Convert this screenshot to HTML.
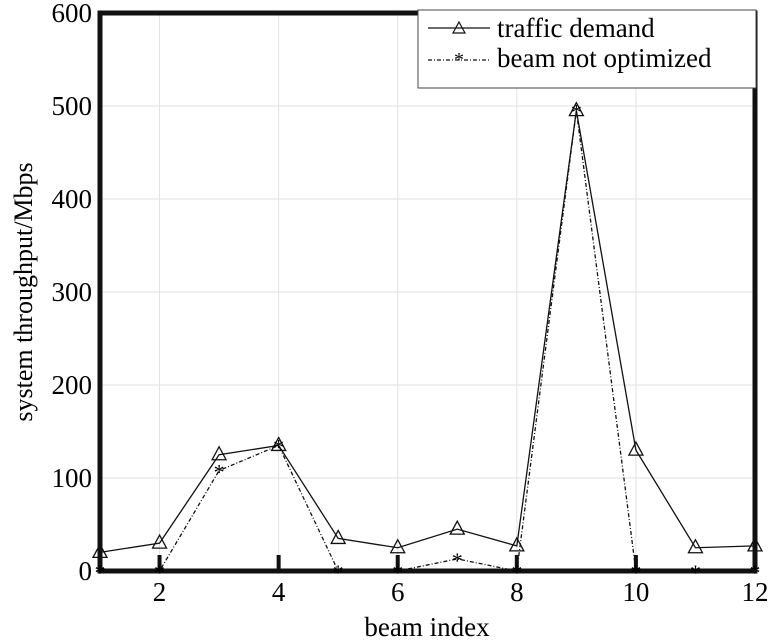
<!DOCTYPE html>
<html><head><meta charset="utf-8"><style>
html,body{margin:0;padding:0;background:#fff;}
svg{display:block;font-family:"Liberation Serif",serif;}
</style></head><body>
<svg id="chart" width="773" height="644" viewBox="0 0 773 644" xmlns="http://www.w3.org/2000/svg">
<g id="grid"></g>
<g id="axes"></g>
<g id="series"></g>
<text x="427" y="636" font-size="27" text-anchor="middle">beam index</text>
<text transform="translate(32,292) rotate(-90)" font-size="26" text-anchor="middle">system throughput/Mbps</text>
<g>
<rect x="418" y="10" width="338" height="78" fill="#fff" stroke="#444" stroke-width="1"/>
<line x1="428" y1="28" x2="490" y2="28" stroke="#111" stroke-width="1.3"/>
<path d="M459,22 L465,33 L453,33 Z" fill="none" stroke="#111" stroke-width="1.2"/>
<text x="497" y="37" font-size="27">traffic demand</text>
<line x1="428" y1="60" x2="490" y2="60" stroke="#111" stroke-width="1.3" stroke-dasharray="4,2,1,2"/>
<text x="459" y="66" font-size="20" text-anchor="middle">*</text>
<text x="497" y="67" font-size="27">beam not optimized</text>
</g>
</svg>
<script>
const beams=[1,2,3,4,5,6,7,8,9,10,11,12];
const trafficDemand=[20,30,125,135,35,25,45,27,495,130,25,27];
const beamNotOptimized=[0,0,108,135,0,0,13,0,495,0,0,0];
const xTicks=[2,4,6,8,10,12];
const yTicks=[0,100,200,300,400,500,600];
const X0=100,X1=755,Y0=571,Y1=13;
function sx(v){return X0+(v-1)/(12-1)*(X1-X0);}
function sy(v){return Y0-v/600*(Y0-Y1);}
const NS="http://www.w3.org/2000/svg";
function mk(parent,tag,attrs){const e=document.createElementNS(NS,tag);for(const k in attrs)e.setAttribute(k,attrs[k]);parent.appendChild(e);return e;}
const grid=document.getElementById('grid'),axes=document.getElementById('axes'),series=document.getElementById('series');
xTicks.forEach(t=>{if(t<12){const l=mk(grid,'line',{x1:sx(t),x2:sx(t),y1:Y1,y2:Y0,stroke:'#e2e2e2','stroke-width':1});


const tk=mk(axes,'line',{x1:sx(t),x2:sx(t),y1:Y0,y2:Y0-16,stroke:'#111','stroke-width':4});

}
const tx=mk(axes,'text',{x:sx(t),y:Y0+30,'font-size':27,'text-anchor':'middle'});tx.textContent=t;

});
yTicks.forEach(t=>{if(t>0&&t<600){const l=mk(grid,'line',{x1:X0,x2:X1,y1:sy(t),y2:sy(t),stroke:'#e2e2e2','stroke-width':1});

}
const tx=mk(axes,'text',{x:X0-8,y:sy(t)+9,'font-size':27,'text-anchor':'end'});tx.textContent=t;

});
const fr=mk(axes,'rect',{x:X0,y:Y1,width:X1-X0,height:Y0-Y1,fill:'none',stroke:'#111','stroke-width':5});


const p1=mk(series,'polyline',{points:beams.map((b,i)=>sx(b)+','+sy(trafficDemand[i])).join(' '),fill:'none',stroke:'#111','stroke-width':1.3});


const p2=mk(series,'polyline',{points:beams.map((b,i)=>sx(b)+','+sy(beamNotOptimized[i])).join(' '),fill:'none',stroke:'#111','stroke-width':1.3,'stroke-dasharray':'4,2,1,2'});


beams.forEach((b,i)=>{const x=sx(b),y=sy(trafficDemand[i]);
const m=mk(series,'path',{d:`M${x},${y-8} L${x+7},${y+5} L${x-7},${y+5} Z`,fill:'none',stroke:'#111','stroke-width':1.3});


const s=mk(series,'text',{x:x,y:sy(beamNotOptimized[i])+9,'font-size':22,'text-anchor':'middle'});s.textContent='*';

});
</script>
</body></html>
